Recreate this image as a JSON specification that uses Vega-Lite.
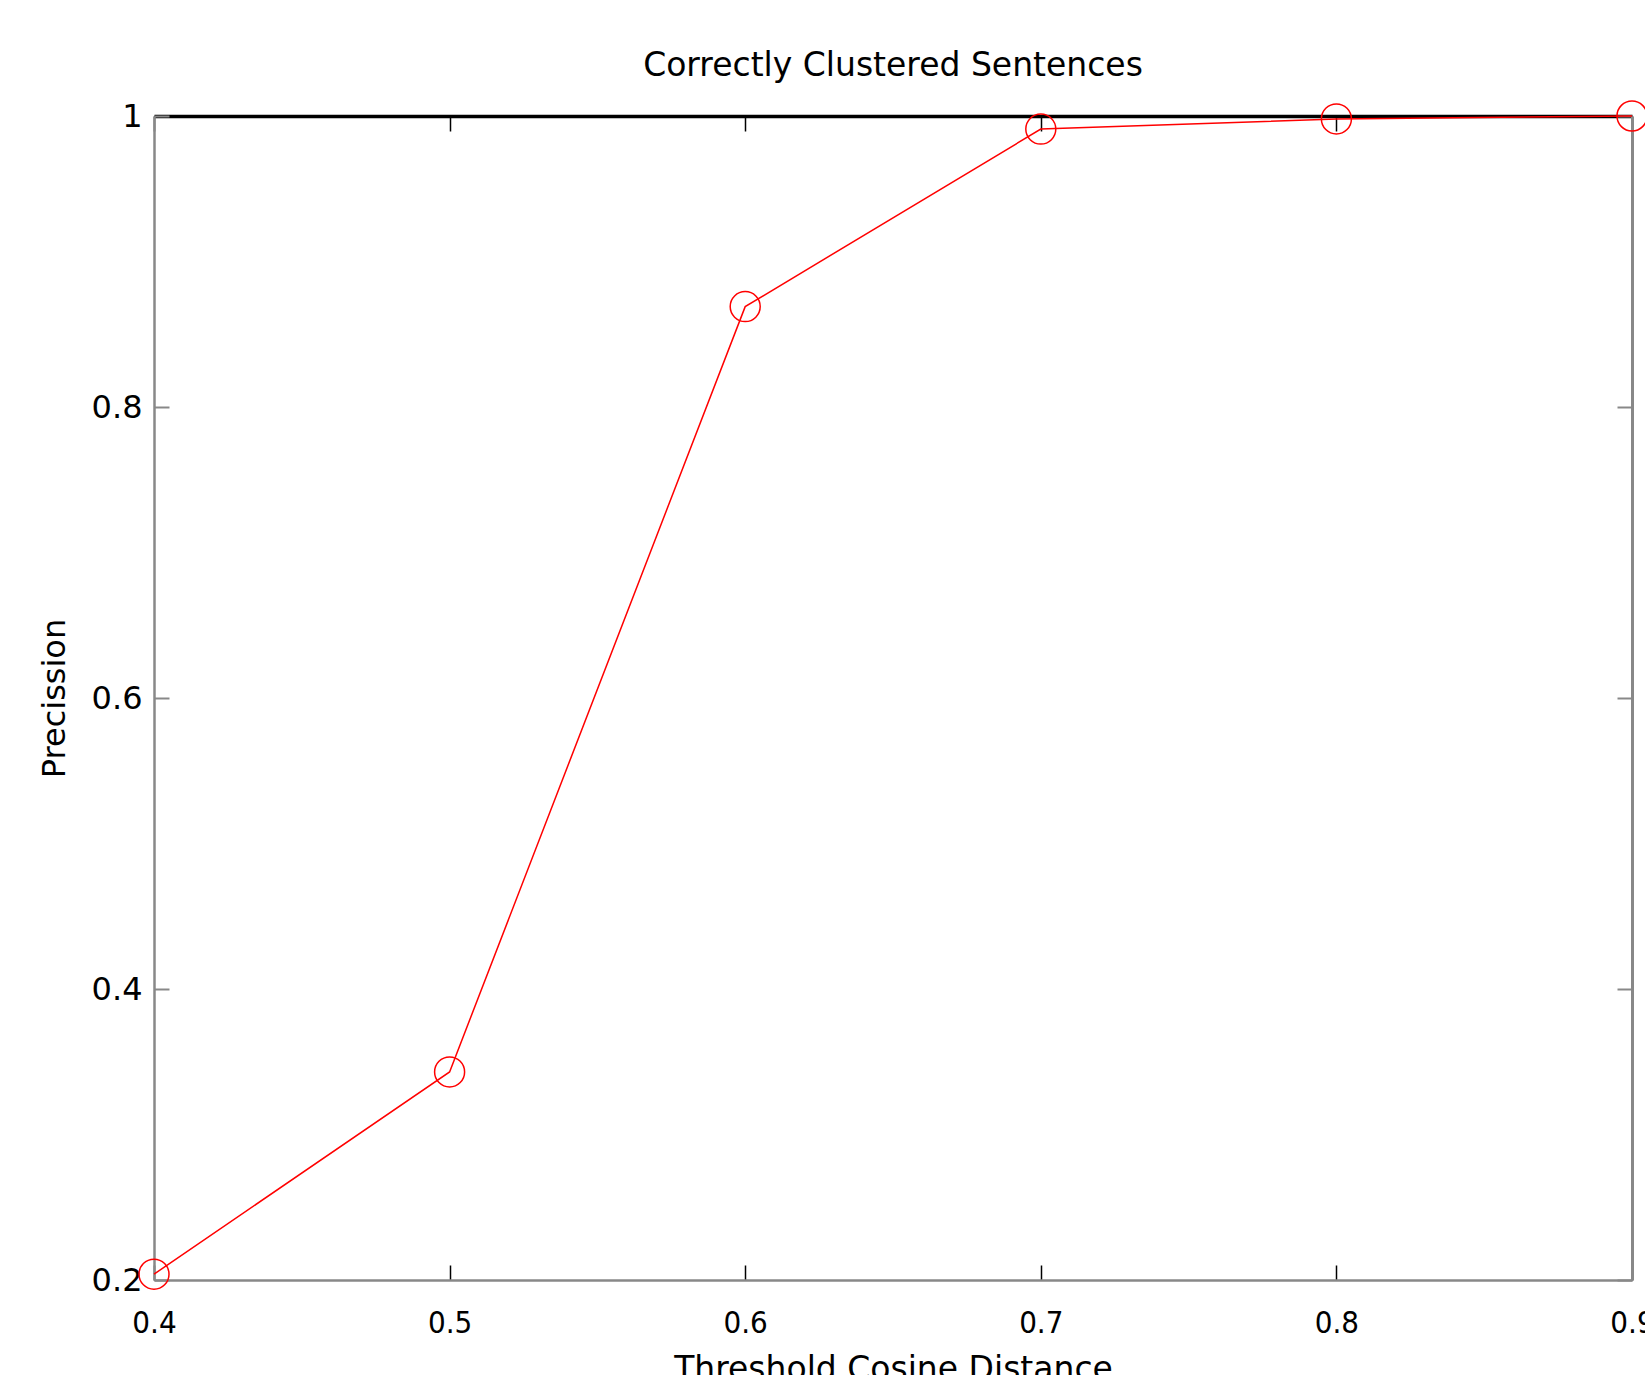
{
  "$schema": "https://vega.github.io/schema/vega-lite/v6.json",
  "autosize": {"type": "none"},
  "padding": {"left": 154, "top": 116, "right": 13, "bottom": 95},
  "width": 1478,
  "height": 1164,
  "background": "white",
  "title": {
    "text": "Correctly Clustered Sentences",
    "font": "DejaVu Sans",
    "fontSize": 33,
    "fontWeight": "normal",
    "color": "black",
    "anchor": "middle",
    "frame": "group",
    "offset": 15
  },
  "config": {"view": {"stroke": null}},
  "data": {
    "values": [
      {"threshold": 0.4, "precision": 0.204},
      {"threshold": 0.5, "precision": 0.343},
      {"threshold": 0.6, "precision": 0.869},
      {"threshold": 0.7, "precision": 0.991},
      {"threshold": 0.8, "precision": 0.998},
      {"threshold": 0.9, "precision": 1.0}
    ]
  },
  "layer": [
    {
      "mark": {"type": "line", "color": "#ff0000", "strokeWidth": 1.5},
      "encoding": {
        "x": {
          "field": "threshold", "type": "quantitative",
          "scale": {"domain": [0.4, 0.9], "nice": false, "zero": false},
          "axis": {
            "orient": "bottom",
            "title": "Threshold Cosine Distance",
            "values": [0.4, 0.5, 0.6, 0.7, 0.8, 0.9],
            "format": ".1f",
            "grid": false,
            "domainColor": "#888888", "domainWidth": 2.5,
            "tickColor": "#000000", "tickSize": -15, "tickWidth": 1.5,
            "labelFont": "DejaVu Sans Condensed, DejaVu Sans", "labelFontSize": 31, "labelColor": "black",
            "labelPadding": 43, "labelFlush": false, "labelOverlap": false,
            "titleFont": "DejaVu Sans", "titleFontSize": 33, "titleFontWeight": "normal", "titleColor": "black",
            "titlePadding": 15
          }
        },
        "y": {
          "field": "precision", "type": "quantitative",
          "scale": {"domain": [0.2, 1.0], "nice": false, "zero": false},
          "axis": {
            "orient": "left",
            "title": "Precission",
            "values": [0.2, 0.4, 0.6, 0.8, 1.0],
            "format": ".1~f",
            "grid": false,
            "domainColor": "#888888", "domainWidth": 2.5,
            "tickColor": "#888888", "tickSize": -15, "tickWidth": 2,
            "labelFont": "DejaVu Sans", "labelFontSize": 32, "labelColor": "black",
            "labelPadding": 27, "labelFlush": false, "labelOverlap": false,
            "titleFont": "DejaVu Sans", "titleFontSize": 32, "titleFontWeight": "normal", "titleColor": "black",
            "titlePadding": 20
          }
        }
      }
    },
    {
      "mark": {"type": "point", "shape": "circle", "filled": false, "color": "#ff0000", "size": 900, "strokeWidth": 1.5, "opacity": 1},
      "encoding": {
        "x": {"field": "threshold", "type": "quantitative", "axis": null},
        "y": {"field": "precision", "type": "quantitative", "axis": null}
      }
    },
    {
      "mark": {"type": "point", "opacity": 0},
      "encoding": {
        "x": {
          "field": "threshold", "type": "quantitative",
          "axis": {
            "orient": "top", "title": null, "labels": false, "grid": false,
            "values": [0.4, 0.5, 0.6, 0.7, 0.8, 0.9],
            "domainColor": "#000000", "domainWidth": 3.5,
            "tickColor": "#000000", "tickSize": -15, "tickWidth": 1.5
          }
        },
        "y": {
          "field": "precision", "type": "quantitative",
          "axis": {
            "orient": "right", "title": null, "labels": false, "grid": false,
            "values": [0.2, 0.4, 0.6, 0.8, 1.0],
            "domainColor": "#888888", "domainWidth": 3,
            "tickColor": "#888888", "tickSize": -15, "tickWidth": 2
          }
        }
      }
    }
  ],
  "resolve": {"axis": {"x": "independent", "y": "independent"}}
}
